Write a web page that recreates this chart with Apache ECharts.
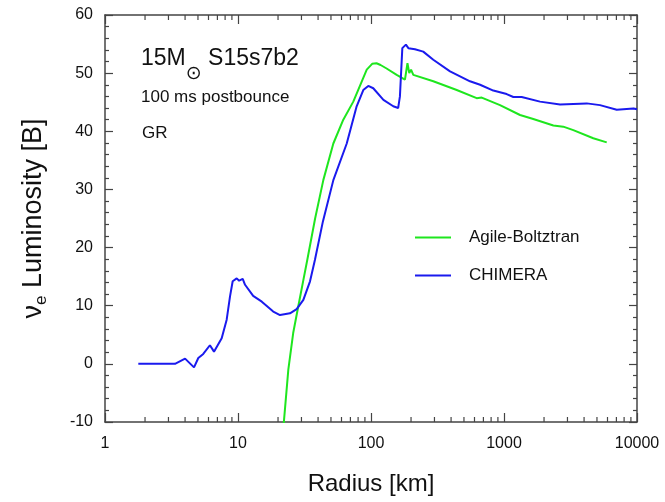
<!DOCTYPE html>
<html>
<head>
<meta charset="utf-8">
<script src="https://cdn.jsdelivr.net/npm/echarts@6/dist/echarts.min.js"></script>
<style>
  html, body { margin: 0; padding: 0; background: #fff; }
  #chart { width: 665px; height: 502px; }
</style>
</head>
<body>
<div id="chart"></div>
<script>
// values (radius in km, luminosity in B)
var chimeraRadius = [1.78, 3.36, 4.0, 4.67, 5.03, 5.48, 6.15, 6.6, 7.54, 8.22, 8.71, 9.12, 9.78, 10.2, 10.85, 11.3,
  13.0, 15.1, 18.4, 20.7, 24.6, 27.6, 31.0, 34.8, 37.9, 43.5, 52.1, 65.7, 78.0, 87.5, 95.4, 104, 124, 147, 160,
  165, 172, 183, 191, 214, 247, 294, 393, 555, 661, 831, 1047, 1175, 1358, 1866, 2640, 4190, 5270, 7040, 9380, 10000];
var chimeraLum = [0, 0, 0.9, -0.6, 1.0, 1.7, 3.2, 2.1, 4.4, 7.6, 11.6, 14.2, 14.7, 14.3, 14.6, 13.6,
  11.7, 10.7, 9.0, 8.4, 8.7, 9.4, 11.0, 14.2, 17.9, 24.5, 31.6, 37.9, 44.3, 47.1, 47.8, 47.4, 45.4, 44.3, 44.0,
  46.0, 54.3, 54.9, 54.3, 54.1, 53.7, 52.3, 50.3, 48.6, 48.0, 47.0, 46.4, 45.9, 45.9, 45.1, 44.6, 44.8, 44.5, 43.7, 43.9, 43.8];

var agileRadius = [21.9, 22.2, 23.9, 26.0, 28.4, 31.0, 33.2, 38.0, 43.8, 52.1, 61.9, 73.6, 92.9, 102, 110, 118,
  131, 156, 180, 188, 194, 200, 208, 294, 441, 623, 680, 933, 1320, 1660, 2350, 2790, 3320, 4690, 5920];
var agileLum = [-11.5, -9.6, -1.0, 5.3, 9.9, 14.4, 17.9, 25.0, 31.6, 37.9, 42.0, 45.1, 50.6, 51.6, 51.7, 51.4,
  50.8, 49.7, 48.9, 51.7, 50.0, 50.6, 49.7, 48.6, 47.1, 45.7, 45.8, 44.5, 42.8, 42.1, 41.0, 40.8, 40.2, 38.8, 38.1];

// minor tick positions on the log axis
var minorTicksX = [2, 3, 4, 5, 6, 7, 8, 9, 20, 30, 40, 50, 60, 70, 80, 90,
  200, 300, 400, 500, 600, 700, 800, 900, 2000, 3000, 4000, 5000, 6000, 7000, 8000, 9000];

var FONT = 'Liberation Sans, Arial, Helvetica, sans-serif';
var FRAME = '#444';

function zip(xs, ys) {
  return xs.map(function (x, i) { return [x, ys[i]]; });
}

var chart = echarts.init(document.getElementById('chart'));

var frameLine = { show: true, onZero: false, lineStyle: { color: FRAME, width: 1.5 } };

function logAxis(pos, showLabel) {
  return {
    type: 'log',
    logBase: 10,
    min: 1,
    max: 10000,
    position: pos,
    axisLine: frameLine,
    axisTick: { show: true, inside: true, length: 9, lineStyle: { color: FRAME, width: 1.2 } },
    axisLabel: {
      show: showLabel, margin: 14, color: '#111', fontSize: 16, fontFamily: FONT,
      formatter: function (v) { return String(Math.round(v)); }
    },
    splitLine: { show: false }
  };
}

function valAxis(pos, showLabel) {
  return {
    type: 'value',
    min: -10,
    max: 60,
    interval: 10,
    position: pos,
    axisLine: frameLine,
    axisTick: { show: true, inside: true, length: 8, lineStyle: { color: FRAME, width: 1.2 } },
    minorTick: { show: true, splitNumber: 5, length: 4, lineStyle: { color: FRAME, width: 1.2 } },
    axisLabel: { show: showLabel, margin: 12, color: '#111', fontSize: 16, fontFamily: FONT },
    splitLine: { show: false }
  };
}

var xBottom = logAxis('bottom', true);
xBottom.name = 'Radius [km]';
xBottom.nameLocation = 'middle';
xBottom.nameGap = 50;
xBottom.nameTextStyle = { fontSize: 24, color: '#111', fontFamily: FONT };

var yLeft = valAxis('left', true);
yLeft.name = '{a|ν}{s|e}{a| Luminosity [B]}';
yLeft.nameLocation = 'middle';
yLeft.nameGap = 55;
yLeft.nameTextStyle = {
  color: '#111',
  rich: {
    a: { fontSize: 27, lineHeight: 33, fontFamily: FONT, color: '#111' },
    s: { fontSize: 17, lineHeight: 18, verticalAlign: 'bottom', fontFamily: FONT, color: '#111' }
  }
};

var option = {
  animation: false,
  backgroundColor: '#fff',
  grid: { left: 105, right: 28, top: 15, bottom: 80 },
  xAxis: [xBottom, logAxis('top', false)],
  yAxis: [yLeft, valAxis('right', false)],
  legend: {
    orient: 'vertical',
    left: 415,
    top: 229,
    padding: 0,
    icon: 'rect',
    itemWidth: 36,
    itemHeight: 2,
    itemGap: 21,
    textStyle: { fontSize: 17, color: '#111', fontFamily: FONT, padding: [0, 0, 0, 13] },
    data: ['Agile-Boltztran', 'CHIMERA']
  },
  graphic: [
    {
      type: 'text', left: 141, top: 47,
      style: {
        text: '{a|15M}{s|⊙}{a| S15s7b2}',
        rich: {
          a: { fontSize: 23, lineHeight: 50, fontFamily: FONT, fill: '#111' },
          s: { fontSize: 19, lineHeight: 20, verticalAlign: 'bottom', fontFamily: 'DejaVu Sans', fill: '#111' }
        }
      }
    },
    { type: 'text', left: 141, top: 89, style: { text: '100 ms postbounce', fontSize: 17, fontFamily: FONT, fill: '#111' } },
    { type: 'text', left: 142, top: 125, style: { text: 'GR', fontSize: 17, fontFamily: FONT, fill: '#111' } }
  ],
  series: [
    {
      name: 'Agile-Boltztran',
      type: 'line',
      symbol: 'none',
      clip: true,
      lineStyle: { color: '#1ee61e', width: 2 },
      itemStyle: { color: '#1ee61e' },
      data: zip(agileRadius, agileLum)
    },
    {
      name: 'CHIMERA',
      type: 'line',
      symbol: 'none',
      clip: true,
      lineStyle: { color: '#1a1aee', width: 2 },
      itemStyle: { color: '#1a1aee' },
      data: zip(chimeraRadius, chimeraLum)
    },
    {
      // minor ticks of the log axis, bottom and top
      type: 'custom',
      silent: true,
      clip: false,
      data: minorTicksX.map(function (v) { return [v, -10]; }),
      renderItem: function (params, api) {
        var b = api.coord([api.value(0), -10]);
        var t = api.coord([api.value(0), 60]);
        var st = { stroke: FRAME, lineWidth: 1.2 };
        return {
          type: 'group',
          children: [
            { type: 'line', shape: { x1: b[0], y1: b[1], x2: b[0], y2: b[1] - 5 }, style: st },
            { type: 'line', shape: { x1: t[0], y1: t[1], x2: t[0], y2: t[1] + 5 }, style: st }
          ]
        };
      }
    }
  ]
};

chart.setOption(option);
</script>
</body>
</html>
